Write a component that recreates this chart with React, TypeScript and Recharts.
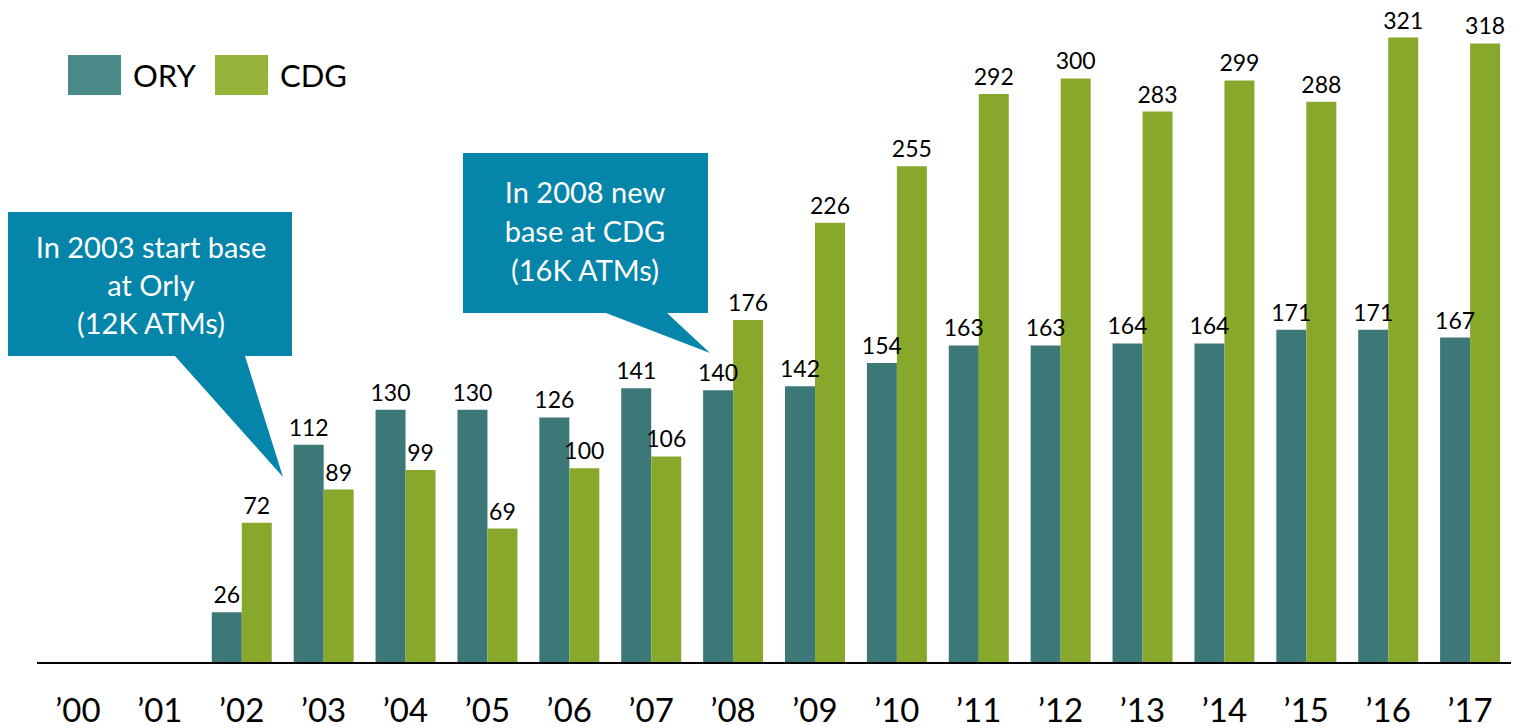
import React from 'react';
import { BarChart, Bar, XAxis, YAxis, LabelList } from 'recharts';

const years = ['’00', '’01', '’02', '’03', '’04', '’05', '’06', '’07', '’08', '’09', '’10', '’11', '’12', '’13', '’14', '’15', '’16', '’17'];
const oryValues = [null, null, 26, 112, 130, 130, 126, 141, 140, 142, 154, 163, 163, 164, 164, 171, 171, 167];
const cdgValues = [null, null, 72, 89, 99, 69, 100, 106, 176, 226, 255, 292, 300, 283, 299, 288, 321, 318];

const callouts = [
    { lines: ['In 2003 start base', 'at Orly', '(12K ATMs)'] },
    { lines: ['In 2008 new', 'base at CDG', '(16K ATMs)'] },
];

const data = years.map((year, i) => ({ year, ORY: oryValues[i], CDG: cdgValues[i] }));

const FONT = 'Lato, "Open Sans", sans-serif';
const ORY_COLOR = '#3c7877';
const CDG_COLOR = '#88a82c';
const BOX_COLOR = '#0485a9';

function Legend() {
    const items = [
        { name: 'ORY', color: '#4a8a88', left: 68 },
        { name: 'CDG', color: '#98b33a', left: 215 },
    ];
    return (
        <>
            {items.map((it) => (
                <div
                    key={it.name}
                    style={{ position: 'absolute', left: it.left, top: 55, display: 'flex', alignItems: 'center', fontFamily: FONT, fontSize: 31 }}
                >
                    <div style={{ width: 53, height: 40, background: it.color, marginRight: 12 }} />
                    <span style={{ lineHeight: '40px', color: '#000' }}>{it.name}</span>
                </div>
            ))}
        </>
    );
}

function Callouts() {
    return (
        <svg width={1517} height={728} style={{ position: 'absolute', left: 0, top: 0, pointerEvents: 'none' }}>
            <path d="M8,212 L292,212 L292,356 L245,356 L283,477 L175,356 L8,356 Z" fill={BOX_COLOR} />
            <text x={151} y={0} fill="#fff" fontFamily={FONT} fontSize={29} textAnchor="middle">
                {callouts[0].lines.map((l, i) => (
                    <tspan key={i} x={151} y={258 + i * 38}>{l}</tspan>
                ))}
            </text>
            <path d="M463,153 L708,153 L708,313 L667,313 L710,353 L606,313 L463,313 Z" fill={BOX_COLOR} />
            <text x={585} y={0} fill="#fff" fontFamily={FONT} fontSize={29} textAnchor="middle">
                {callouts[1].lines.map((l, i) => (
                    <tspan key={i} x={585} y={203 + i * 39}>{l}</tspan>
                ))}
            </text>
        </svg>
    );
}

export default function App() {
    return (
        <div style={{ position: 'absolute', left: 0, top: 0, width: 1517, height: 728, background: '#fff' }}>
            <BarChart
                width={1517}
                height={728}
                data={data}
                margin={{ top: 20, right: 6, left: 37, bottom: 0 }}
                barCategoryGap={11}
                barGap={0}
            >
                <XAxis
                    dataKey="year"
                    height={65}
                    tickLine={false}
                    tickSize={0}
                    tickMargin={36}
                    axisLine={{ stroke: '#000', strokeWidth: 2 }}
                    tick={{ fill: '#000', fontSize: 33, fontFamily: FONT }}
                    interval={0}
                />
                <YAxis hide domain={[0, 330]} />
                <Bar dataKey="ORY" fill={ORY_COLOR} barSize={30} isAnimationActive={false}>
                    <LabelList dataKey="ORY" position="top" offset={9} fill="#000" fontSize={23} fontFamily={FONT} />
                </Bar>
                <Bar dataKey="CDG" fill={CDG_COLOR} barSize={30} isAnimationActive={false}>
                    <LabelList dataKey="CDG" position="top" offset={9} fill="#000" fontSize={23} fontFamily={FONT} />
                </Bar>
            </BarChart>
            <Legend />
            <Callouts />
        </div>
    );
}
